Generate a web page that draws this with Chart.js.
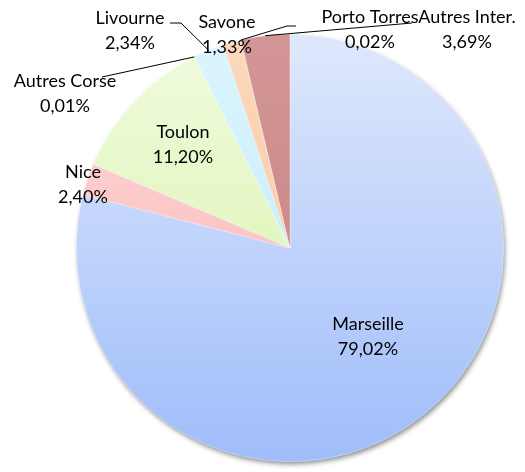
<!DOCTYPE html>
<html><head><meta charset="utf-8">
<script src="https://cdn.jsdelivr.net/npm/chart.js@4.4.0/dist/chart.umd.min.js"></script>
<style>html,body{margin:0;padding:0;background:#fff;}</style>
</head><body>
<canvas id="c" width="525" height="472" style="display:block;width:525px;height:472px"></canvas>
<script>
// ---- data ----
const categories = ['Marseille','Nice','Toulon','Autres Corse','Livourne','Savone','Porto Torres','Autres Inter.'];
const shares = [79.02, 2.40, 11.20, 0.01, 2.34, 1.33, 0.02, 3.69];
const shareLabels = ['79,02%','2,40%','11,20%','0,01%','2,34%','1,33%','0,02%','3,69%'];

// ---- styles ----
const topColors    = ['#dfe8fc','#ffdcdc','#f0fbdf','#f0fbdf','#dcf5fe','#fcd8bb','#d39696','#d39696'];
const bottomColors = ['#9fbdfa','#f9acac','#d4f2a0','#d4f2a0','#bde8fa','#f8c39c','#c77e7e','#c77e7e'];

// label placement (center x, baseline of first line) and leader elbows
const labelLayout = [
  {x:368, y:330},
  {x:83,  y:178},
  {x:183, y:138},
  {x:65,  y:87,  leader:[[102,77]]},
  {x:130, y:24,  leader:[[181,23],[170,23]]},
  {x:227, y:28},
  {x:370, y:23,  leader:[[287,26],[296,26]]},
  {x:467, y:23,  leader:[[412,23]]}
];

const shadowPlugin = {
  id:'shadow',
  beforeDatasetsDraw(chart){
    const arc = chart.getDatasetMeta(0).data[0];
    if(!arc) return;
    const {x,y,outerRadius} = arc.getProps(['x','y','outerRadius'], true);
    const ctx = chart.ctx;
    ctx.save();
    ctx.shadowColor = 'rgba(0,0,0,0.45)';
    ctx.shadowBlur = 5;
    ctx.shadowOffsetX = 1.5;
    ctx.shadowOffsetY = 3;
    ctx.beginPath();
    ctx.arc(x, y, outerRadius-0.5, 0, Math.PI*2);
    ctx.fillStyle = '#b0c8f8';
    ctx.fill();
    ctx.restore();
  }
};

const labelPlugin = {
  id:'pieLabels',
  afterDatasetsDraw(chart){
    const ctx = chart.ctx;
    const arcs = chart.getDatasetMeta(0).data;
    ctx.save();
    ctx.strokeStyle = '#000';
    ctx.lineWidth = 1;
    arcs.forEach((arc, i) => {
      const L = labelLayout[i];
      if(!L.leader) return;
      const p = arc.getProps(['x','y','startAngle','endAngle','outerRadius'], true);
      const mid = (p.startAngle + p.endAngle)/2;
      const ax = p.x + Math.cos(mid)*p.outerRadius;
      const ay = p.y + Math.sin(mid)*p.outerRadius;
      ctx.beginPath();
      ctx.moveTo(ax, ay);
      L.leader.forEach(pt => ctx.lineTo(pt[0], pt[1]));
      ctx.stroke();
    });
    ctx.fillStyle = '#000';
    ctx.font = '18px Lato';
    ctx.textAlign = 'center';
    ctx.textBaseline = 'alphabetic';
    arcs.forEach((arc, i) => {
      const L = labelLayout[i];
      ctx.fillText(categories[i], L.x, L.y);
      ctx.fillText(shareLabels[i], L.x, L.y + 25);
    });
    ctx.restore();
  }
};

new Chart(document.getElementById('c'), {
  type:'pie',
  data:{
    labels: categories,
    datasets:[{
      data: shares,
      backgroundColor: (c) => {
        const chart = c.chart, area = chart.chartArea;
        if(!area) return topColors[c.dataIndex];
        const g = chart.ctx.createLinearGradient(0, area.top, 0, area.bottom);
        g.addColorStop(0, topColors[c.dataIndex]);
        g.addColorStop(1, bottomColors[c.dataIndex]);
        return g;
      },
      borderColor: 'rgba(255,255,255,0.55)',
      borderWidth: 0.6
    }]
  },
  options:{
    responsive:false,
    animation:false,
    events:[],
    devicePixelRatio:1,
    layout:{padding:{left:76, right:21, top:34, bottom:10}},
    plugins:{legend:{display:false}, tooltip:{enabled:false}}
  },
  plugins:[shadowPlugin, labelPlugin]
});
</script>
</body></html>
